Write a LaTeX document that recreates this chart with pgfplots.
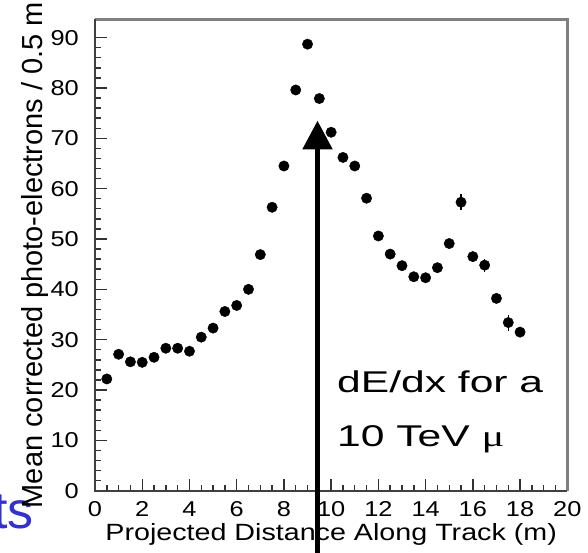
\documentclass[border=0pt]{standalone}
\usepackage{fontspec}
\setmainfont{Liberation Sans}
\newfontfamily\seriffont{Liberation Serif}
\usepackage{pgfplots}
\pgfplotsset{compat=1.18}
\usetikzlibrary{arrows.meta}
\definecolor{tsblue}{RGB}{51,51,204}
\begin{document}
\begin{tikzpicture}[x=1pt,y=1pt]
\useasboundingbox (0,0) rectangle (588,-553);
\begin{scope}
\clip (0,0) rectangle (588,-553);
\node[anchor=base east, text=tsblue, font=\fontsize{52}{60}\selectfont, inner sep=0pt] at (34,-528) {ts};
\begin{axis}[
  at={(95pt,-490.7pt)}, anchor=south west, scale only axis,
  width=472.3pt, height=471.2pt,
  xmin=0, xmax=20, ymin=0, ymax=93.6,
  xtick={0,2,...,20}, ytick={0,10,...,90},
  minor x tick num=3, minor y tick num=4,
  xtick pos=bottom, ytick pos=left, tick align=inside,
  major tick length=12pt, minor tick length=6pt,
  every tick/.style={black!80, line width=1.4pt},
  axis line style={draw=none},
  /pgf/number format/assume math mode=true,
  xticklabel={\scalebox{1.18}[1]{\pgfmathprintnumber{\tick}}},
  yticklabel={\scalebox{1.18}[1]{\pgfmathprintnumber{\tick}}},
  tick label style={font=\fontsize{21.5}{25}\selectfont},
  xticklabel style={anchor=north, inner sep=0pt, yshift=-10.5pt},
  yticklabel style={anchor=east, inner sep=0pt, xshift=-16pt},
  xlabel={\scalebox{1.22}[1]{Projected Distance Along Track (m)}},
  xlabel style={at={(axis description cs:0.5,-0.1067)}, anchor=base, font=\fontsize{23.5}{28}\selectfont, inner sep=0pt},
  ylabel={Mean corrected photo-electrons / 0.5 m},
  ylabel style={at={(axis description cs:-0.1122,0.5)}, anchor=base, font=\fontsize{29}{34}\selectfont, inner sep=0pt},
  clip=false,
]
\addplot[only marks, mark=*, mark size=5.2pt, black,
  error bars/.cd, y dir=both, y explicit, error mark=none,
  error bar style={line width=1.5pt, black}]
  table[x=x, y=y, y error=e] {
x y e
0.5 22.2 0.6
1.0 27.1 0.6
1.5 25.6 0.6
2.0 25.5 0.6
2.5 26.5 0.6
3.0 28.3 0.6
3.5 28.3 0.6
4.0 27.7 0.6
4.5 30.5 0.6
5.0 32.3 0.6
5.5 35.6 0.6
6.0 36.8 0.6
6.5 40.0 0.6
7.0 46.9 0.6
7.5 56.3 0.6
8.0 64.5 0.6
8.5 79.6 0.7
9.0 88.7 0.8
9.5 77.9 1.0
10.0 71.2 0.7
10.5 66.2 0.7
11.0 64.5 0.7
11.5 58.1 0.7
12.0 50.6 0.7
12.5 47.0 0.7
13.0 44.7 0.7
13.5 42.5 0.7
14.0 42.3 0.7
14.5 44.3 0.8
15.0 49.1 0.9
15.5 57.3 1.6
16.0 46.5 1.0
16.5 44.8 1.3
17.0 38.2 1.0
17.5 33.4 1.6
18.0 31.5 1.0
};
\draw[black!50, line width=2.5pt] (rel axis cs:0,1) -- (rel axis cs:1,1) -- (rel axis cs:1,0);
\draw[black!75, line width=2pt] (rel axis cs:0,1) -- (rel axis cs:0,0) -- (rel axis cs:1,0);
\end{axis}
\node[anchor=base west, font=\fontsize{30}{34}\selectfont, inner sep=0pt] at (337,-392) {\scalebox{1.42}[1]{dE/dx for a}};
\node[anchor=base west, font=\fontsize{30}{34}\selectfont, inner sep=0pt] at (337,-446) {\scalebox{1.42}[1]{10 TeV {\seriffont μ}}};
\draw[line width=5pt, -{Triangle[width=29pt,length=28.6pt]}] (317.5,-560) -- (317.5,-120.7);
\end{scope}
\end{tikzpicture}
\end{document}
